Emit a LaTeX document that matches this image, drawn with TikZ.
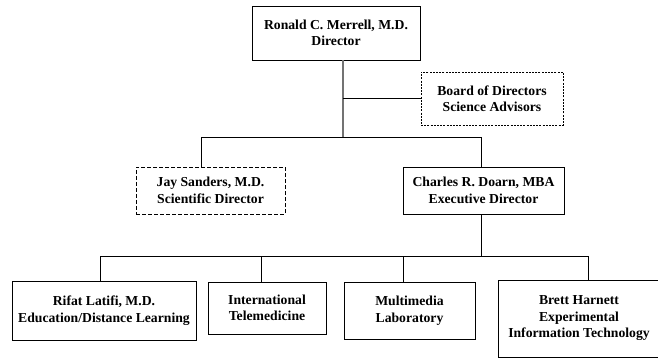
\documentclass[tikz,border=0pt]{standalone}
\usepackage{fontspec}
\setmainfont{Liberation Serif}
\begin{document}
\begin{tikzpicture}[x=1pt,y=-1pt,
  box/.style={draw=black, line width=0.8pt, align=center, inner sep=0pt,
    font=\bfseries\fontsize{13.7}{16.5}\selectfont},
  dotbox/.style={box, dash pattern=on 2pt off 1.2pt},
  dashbox/.style={box, dash pattern=on 4pt off 2pt},
  conn/.style={line width=0.8pt, black},
  mainconn/.style={line width=1.3pt, black!55}]
\useasboundingbox (0,0) rectangle (658,358);
\clip (0,0) rectangle (658,358);
\fill[white] (0,0) rectangle (658,358);

\node[box, minimum width=168pt, minimum height=54pt] (merrell) at (336,33)
  {Ronald C. Merrell, M.D.\\Director};
\node[dotbox, minimum width=142pt, minimum height=53pt] (board) at (492,98.5)
  {Board of Directors\\Science Advisors};
\node[dashbox, minimum width=149pt, minimum height=47pt] (jay) at (210.5,190.5)
  {Jay Sanders, M.D.\\Scientific Director};
\node[box, minimum width=161pt, minimum height=47pt] (doarn) at (483.5,190.5)
  {Charles R. Doarn, MBA\\Executive Director};
\node[box, minimum width=184pt, minimum height=59pt] (latifi) at (104,310.5)
  {Rifat Latifi, M.D.\\Education/Distance Learning};
\node[box, minimum width=118pt, minimum height=52pt] (intl) at (267,308)
  {International\\Telemedicine};
\node[box, minimum width=131pt, minimum height=57pt] (multi) at (409.5,310.5)
  {Multimedia\\Laboratory};
\node[box, minimum width=162pt, minimum height=77pt] (brett) at (579,318.5)
  {Brett Harnett\\Experimental\\Information Technology};

\coordinate (hub1) at (343,137);
\coordinate (jtop) at (201,137);
\coordinate (dtop) at (481,137);
\coordinate (hub2) at (481,256);
\coordinate (b1) at (100,256);
\coordinate (b2) at (261,256);
\coordinate (b3) at (403,256);
\coordinate (b4) at (588,256);

\draw[mainconn] (merrell.south -| hub1) -- (hub1);
\draw[conn] (hub1 |- board.west) -- (board.west);
\draw[conn] (jtop |- jay.north) -- (jtop) -- (dtop) -- (dtop |- doarn.north);
\draw[conn] (dtop |- doarn.south) -- (hub2);
\draw[conn] (b1 |- latifi.north) -- (b1) -- (b4) -- (b4 |- brett.north);
\draw[conn] (b2) -- (b2 |- intl.north);
\draw[conn] (b3) -- (b3 |- multi.north);
\end{tikzpicture}
\end{document}
